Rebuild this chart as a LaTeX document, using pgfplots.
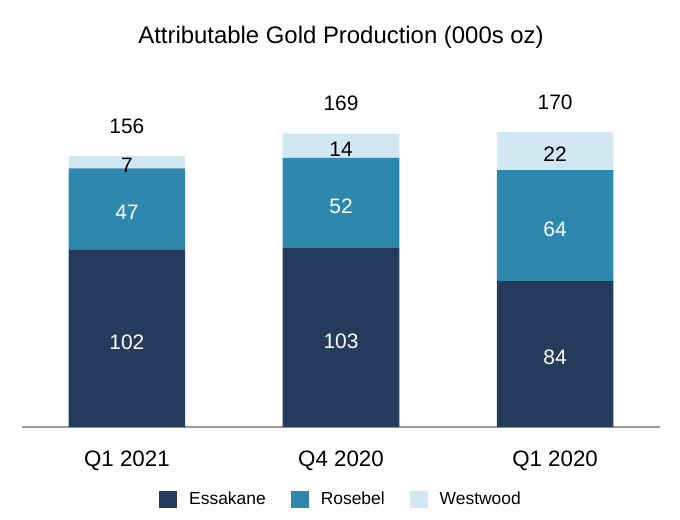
\documentclass[border=0pt]{standalone}
\usepackage{fontspec}
\setmainfont{Liberation Sans}
\usepackage{pgfplots}
\pgfplotsset{compat=1.18}
\definecolor{ess}{HTML}{253B5B}
\definecolor{ros}{HTML}{2E88AE}
\definecolor{wes}{HTML}{D1E7F1}
\definecolor{axgray}{HTML}{999999}
\tikzset{lbl/.style={font=\fontsize{21}{24}\selectfont, anchor=center},
  ilbl/.style={lbl, yshift=-3.5bp}}
\begin{document}
\begin{tikzpicture}
\useasboundingbox (0,0) rectangle (680bp,520bp);
\begin{axis}[
  at={(22bp,93bp)}, anchor=south west,
  scale only axis, width=638bp, height=338.5bp,
  ybar stacked, bar width=0.545,
  xmin=-0.49, xmax=2.49, ymin=0, ymax=195,
  xtick={0,1,2}, xticklabels={Q1 2021,Q4 2020,Q1 2020},
  hide y axis, axis x line*=bottom,
  x axis line style={draw=axgray, line width=1.5bp},
  major tick length=0pt,
  xticklabel style={font=\fontsize{22.4}{26}\selectfont, yshift=-20bp},
  title={Attributable Gold Production (000s oz)},
  title style={font=\fontsize{24}{28}\selectfont, at={(0.5,1)}, anchor=center, yshift=45.5bp},
  clip=false,
  legend columns=3,
  legend style={draw=none, fill=none, at={(0.5,-0.213)}, anchor=center,
    font=\fontsize{17.5}{20}\selectfont,
    /tikz/every even column/.append style={column sep=23bp},
    /tikz/every odd column/.append style={column sep=10bp},
    cells={anchor=west}},
  legend image code/.code={\fill[#1] (0bp,-8.5bp) rectangle (18bp,8.5bp);},
]
\addplot[fill=ess, draw=none] coordinates {(0,102) (1,103) (2,84)};
\addplot[fill=ros, draw=none] coordinates {(0,47) (1,52) (2,64)};
\addplot[fill=wes, draw=none] coordinates {(0,7) (1,14) (2,22)};
\legend{Essakane,Rosebel,Westwood}
\coordinate (e0) at (axis cs:0,51);
\coordinate (e1) at (axis cs:1,51.5);
\coordinate (e2) at (axis cs:2,42);
\coordinate (r0) at (axis cs:0,125.5);
\coordinate (r1) at (axis cs:1,129);
\coordinate (r2) at (axis cs:2,116);
\coordinate (w0) at (axis cs:0,152.5);
\coordinate (w1) at (axis cs:1,162);
\coordinate (w2) at (axis cs:2,159);
\coordinate (t0) at (axis cs:0,156);
\coordinate (t1) at (axis cs:1,169);
\coordinate (t2) at (axis cs:2,170);
\end{axis}
\node[ilbl, text=white] at (e0) {102};
\node[ilbl, text=white] at (e1) {103};
\node[ilbl, text=white] at (e2) {84};
\node[ilbl, text=white] at (r0) {47};
\node[ilbl, text=white] at (r1) {52};
\node[ilbl, text=white] at (r2) {64};
\node[ilbl, text=black] at (w0) {7};
\node[ilbl, text=black] at (w1) {14};
\node[ilbl, text=black] at (w2) {22};
\node[lbl, yshift=30bp] at (t0) {156};
\node[lbl, yshift=30bp] at (t1) {169};
\node[lbl, yshift=30bp] at (t2) {170};
\end{tikzpicture}
\end{document}
